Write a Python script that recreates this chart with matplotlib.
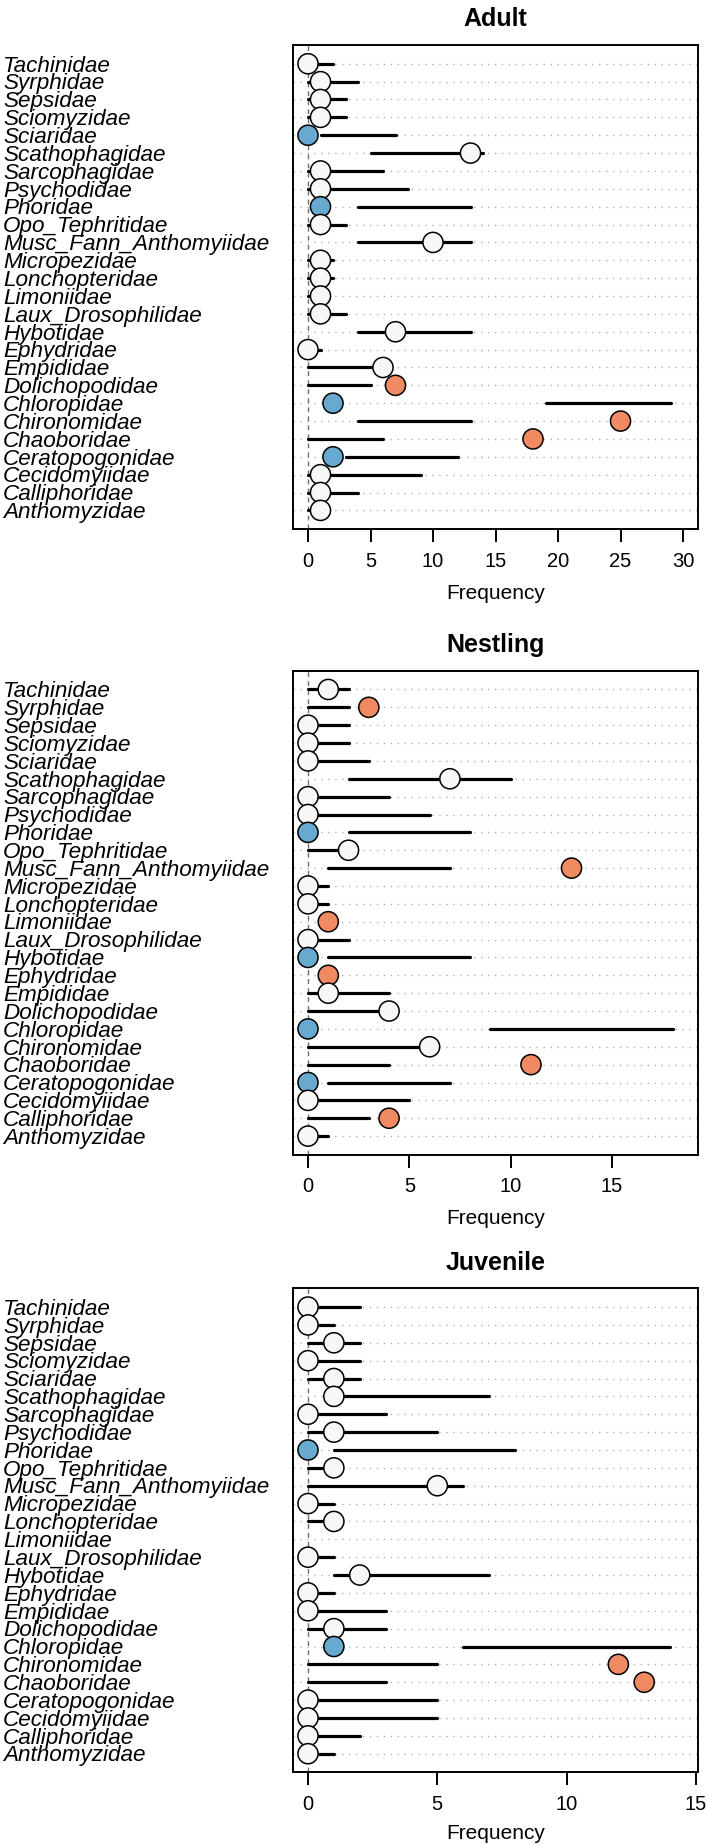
import matplotlib
matplotlib.use("Agg")
import matplotlib.pyplot as plt
import matplotlib.transforms as mtransforms
import numpy as np

plt.rcParams['font.family'] = ['Liberation Sans', 'DejaVu Sans']

families = ["Tachinidae", "Syrphidae", "Sepsidae", "Sciomyzidae", "Sciaridae",
            "Scathophagidae", "Sarcophagidae", "Psychodidae", "Phoridae",
            "Opo_Tephritidae", "Musc_Fann_Anthomyiidae", "Micropezidae",
            "Lonchopteridae", "Limoniidae", "Laux_Drosophilidae", "Hybotidae",
            "Ephydridae", "Empididae", "Dolichopodidae", "Chloropidae",
            "Chironomidae", "Chaoboridae", "Ceratopogonidae", "Cecidomyiidae",
            "Calliphoridae", "Anthomyzidae"]

nan = np.nan

# Adult
adult_obs = [0, 1, 1, 1, 0, 13, 1, 1, 1, 1, 10, 1, 1, 1, 1, 7, 0, 6, 7, 2, 25, 18, 2, 1, 1, 1]
adult_lo  = [0, 0, 0, 0, 1, 5, 0, 0, 4, 0, 4, 0, 0, 0, 0, 4, 0, 0, 0, 19, 4, 0, 3, 0, 0, 0]
adult_hi  = [2, 4, 3, 3, 7, 14, 6, 8, 13, 3, 13, 2, 2, 1, 3, 13, 1, 6, 5, 29, 13, 6, 12, 9, 4, 1]
adult_sig = ["ns", "ns", "ns", "ns", "low", "ns", "ns", "ns", "low", "ns", "ns", "ns", "ns",
             "ns", "ns", "ns", "ns", "ns", "high", "low", "high", "high", "low", "ns", "ns", "ns"]

# Nestling
nest_obs = [1, 3, 0, 0, 0, 7, 0, 0, 0, 2, 13, 0, 0, 1, 0, 0, 1, 1, 4, 0, 6, 11, 0, 0, 4, 0]
nest_lo  = [0, 0, 0, 0, 0, 2, 0, 0, 2, 0, 1, 0, 0, 0, 0, 1, 0, 0, 0, 9, 0, 0, 1, 0, 0, 0]
nest_hi  = [2, 2, 2, 2, 3, 10, 4, 6, 8, 2, 7, 1, 1, 0, 2, 8, 0, 4, 4, 18, 6, 4, 7, 5, 3, 1]
nest_sig = ["ns", "high", "ns", "ns", "ns", "ns", "ns", "ns", "low", "ns", "high", "ns", "ns",
            "high", "ns", "low", "high", "ns", "ns", "low", "ns", "high", "low", "ns", "high", "ns"]

# Juvenile
juv_obs = [0, 0, 1, 0, 1, 1, 0, 1, 0, 1, 5, 0, 1, nan, 0, 2, 0, 0, 1, 1, 12, 13, 0, 0, 0, 0]
juv_lo  = [0, 0, 0, 0, 0, 1, 0, 0, 1, 0, 0, 0, 0, nan, 0, 1, 0, 0, 0, 6, 0, 0, 0, 0, 0, 0]
juv_hi  = [2, 1, 2, 2, 2, 7, 3, 5, 8, 1, 6, 1, 1, nan, 1, 7, 1, 3, 3, 14, 5, 3, 5, 5, 2, 1]
juv_sig = ["ns", "ns", "ns", "ns", "ns", "ns", "ns", "ns", "low", "ns", "ns", "ns", "ns",
           "ns", "ns", "ns", "ns", "ns", "ns", "low", "high", "high", "ns", "ns", "ns", "ns"]

panel_titles = ["Adult", "Nestling", "Juvenile"]
panel_xlims = [(-1.2, 31.2), (-0.74, 19.24), (-0.58, 15.08)]
panel_xticks = [[0, 5, 10, 15, 20, 25, 30], [0, 5, 10, 15], [0, 5, 10, 15]]

sig_colors = {"ns": "#F7F7F7", "low": "#67A9CF", "high": "#EF8A62"}

W, H = 708, 1845
fig = plt.figure(figsize=(W / 100, H / 100), dpi=100)

box_left, box_right = 293, 698
box_tops = [45, 670.7, 1288.3]
box_h = 483.8
label_pads = [9.5, 9, 7]

panels = [(adult_obs, adult_lo, adult_hi, adult_sig),
          (nest_obs, nest_lo, nest_hi, nest_sig),
          (juv_obs, juv_lo, juv_hi, juv_sig)]

n = len(families)
ypos = np.arange(n, 0, -1)

for k, (obs, lo, hi, sig) in enumerate(panels):
    top = box_tops[k]
    ax = fig.add_axes([box_left / W, 1 - (top + box_h) / H,
                       (box_right - box_left) / W, box_h / H])
    ax.set_xlim(*panel_xlims[k])
    ax.set_ylim(-0.03, n + 1.05)

    # dotted row guides
    for y in ypos:
        ax.axhline(y, color="#B0B0B0", lw=1.0, linestyle=(0, (1, 4)), zorder=1)
    # dashed zero reference
    ax.axvline(0, color="#707070", lw=1.0, linestyle=(0, (3.5, 3)), zorder=1.5)

    obs_a = np.array(obs, dtype=float)
    lo_a = np.array(lo, dtype=float)
    hi_a = np.array(hi, dtype=float)
    ok = ~np.isnan(lo_a)
    ax.hlines(ypos[ok], lo_a[ok], hi_a[ok], color="black", lw=2.3,
              capstyle="round", zorder=2)
    okp = ~np.isnan(obs_a)
    cols = [sig_colors[s] for s, m in zip(sig, okp) if m]
    ax.scatter(obs_a[okp], ypos[okp], s=14.5 ** 2, c=cols, edgecolors="black",
               linewidths=1.1, zorder=3)

    ax.set_xticks(panel_xticks[k])
    ax.set_yticks([])
    ax.tick_params(axis="x", length=9, width=1.4, pad=7.5, labelsize=14.5,
                   direction="out")
    for sp in ax.spines.values():
        sp.set_linewidth(1.4)
    ax.set_xlabel("Frequency", fontsize=15, labelpad=label_pads[k])
    ax.set_title(panel_titles[k], fontsize=18, fontweight="bold", pad=13.5)

    trans = mtransforms.blended_transform_factory(fig.transFigure, ax.transData)
    for name, y in zip(families, ypos):
        ax.annotate(name, xy=(3 / W, y), xycoords=trans, xytext=(0, -5.6),
                    textcoords="offset points", ha="left", va="baseline",
                    fontsize=16.2, fontstyle="italic", annotation_clip=False)

fig.savefig("out.png", dpi=100)
